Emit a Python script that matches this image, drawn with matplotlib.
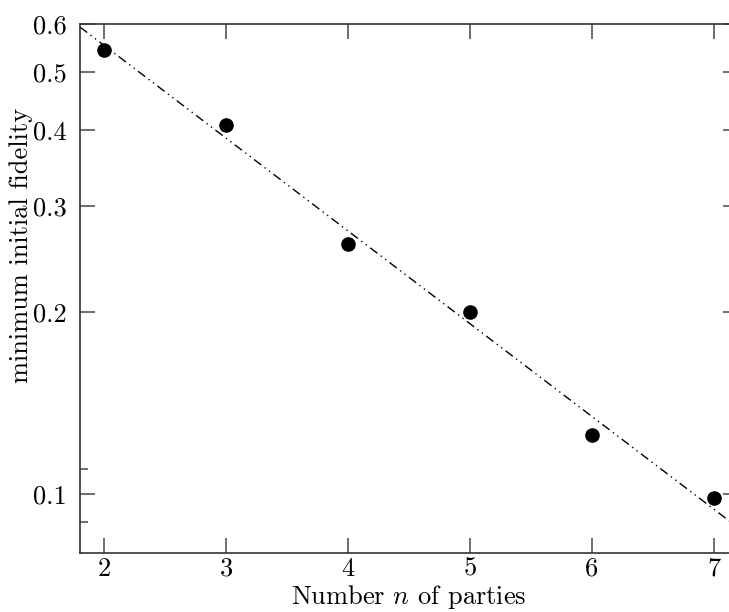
import numpy as np
import matplotlib
matplotlib.use("Agg")
import matplotlib.pyplot as plt
from matplotlib.ticker import FixedLocator, NullFormatter

plt.rcParams['font.family'] = 'serif'
plt.rcParams['font.serif'] = ['cmr10']
plt.rcParams['mathtext.fontset'] = 'cm'
plt.rcParams['axes.formatter.use_mathtext'] = True

# data
parties = [2, 3, 4, 5, 6, 7]
fidelity = [0.544, 0.409, 0.260, 0.200, 0.1253, 0.0985]

y_ticks = [0.1, 0.2, 0.3, 0.4, 0.5, 0.6]
y_ticklabels = ['0.1', '0.2', '0.3', '0.4', '0.5', '0.6']
y_minor = [0.09, 0.11]
x_ticks = [2, 3, 4, 5, 6, 7]

x_lim = (1.8, 7.2)
y_lim = (0.08, 0.6)

# exponential fit (straight line on log axis)
slope, icpt = np.polyfit(parties, np.log10(fidelity), 1)
fit_x = np.array(x_lim)
fit_y = 10 ** (icpt + slope * fit_x)

fig = plt.figure(figsize=(7.29, 6.12), dpi=100)
# right edge of the frame lies just outside the picture
ax = fig.add_axes([80 / 729, 59 / 612, 658 / 729, 529 / 612])

ax.plot(fit_x, fit_y, color='black', lw=1.0, ls=(0, (6.5, 3, 1, 3, 1, 3)))
ax.plot(parties, fidelity, 'o', color='black', markersize=9.5, zorder=3)

ax.set_yscale('log')
ax.set_xlim(*x_lim)
ax.set_ylim(*y_lim)

ax.set_xticks(x_ticks)
ax.set_xticklabels([str(t) for t in x_ticks])
ax.yaxis.set_major_locator(FixedLocator(y_ticks))
ax.set_yticklabels(y_ticklabels)
ax.yaxis.set_minor_locator(FixedLocator(y_minor))
ax.yaxis.set_minor_formatter(NullFormatter())
ax.xaxis.set_minor_locator(FixedLocator([]))

ax.tick_params(which='both', direction='in', top=True, right=True,
               color='#555555', width=1.2, labelsize=19)
ax.tick_params(which='major', length=10.8)
ax.tick_params(which='minor', length=5.8)
ax.tick_params(axis='y', pad=9.5)
ax.tick_params(axis='x', pad=3)

for sp in ax.spines.values():
    sp.set_linewidth(1.2)
    sp.set_color('#333333')
ax.spines['right'].set_visible(False)

ax.set_xlabel('Number $n$ of parties', fontsize=19)
ax.set_ylabel('minimum initial fidelity', fontsize=19)
ax.xaxis.set_label_coords(0.5, -0.056)
ax.yaxis.set_label_coords(-0.071, 0.582)

fig.savefig('out.png', dpi=100)
